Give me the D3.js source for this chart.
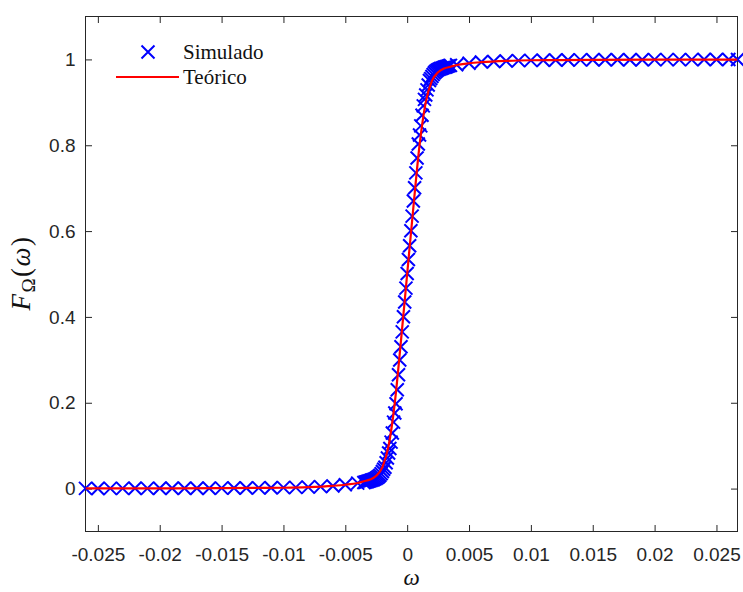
<!DOCTYPE html>
<html>
<head>
<meta charset="utf-8">
<script src="https://cdn.jsdelivr.net/npm/d3@7"></script>
<style>
  html, body { margin: 0; padding: 0; background: #fff; }
  svg { display: block; }
</style>
</head>
<body>
<svg id="chart" width="743" height="592"></svg>
<script>
// Simulated CDF samples (omega, F)
const simOmega = [
  -0.026, -0.025, -0.024, -0.023, -0.022, -0.021, -0.020, -0.019, -0.018, -0.017,
  -0.016, -0.015, -0.014, -0.013, -0.012, -0.011, -0.010, -0.009, -0.008, -0.007,
  -0.006, -0.005, -0.004,
  -0.0035, -0.0034, -0.0033, -0.0032, -0.0031, -0.0030, -0.0029, -0.0028, -0.0027, -0.0026,
  -0.0025, -0.0024, -0.0023, -0.0022, -0.0021, -0.0020, -0.0019, -0.0018, -0.0017, -0.0016,
  -0.0015, -0.0014, -0.0013, -0.0012, -0.0011, -0.0010, -0.0009, -0.0008, -0.0007, -0.0006,
  -0.0005, -0.0004, -0.0003, -0.0002, -0.0001,
  0,
  0.0001, 0.0002, 0.0003, 0.0004, 0.0005,
  0.0006, 0.0007, 0.0008, 0.0009, 0.0010, 0.0011, 0.0012, 0.0013, 0.0014, 0.0015,
  0.0016, 0.0017, 0.0018, 0.0019, 0.0020, 0.0021, 0.0022, 0.0023, 0.0024, 0.0025,
  0.0026, 0.0027, 0.0028, 0.0029, 0.0030, 0.0031, 0.0032, 0.0033, 0.0034, 0.0035,
  0.004, 0.005, 0.006, 0.007, 0.008, 0.009, 0.010, 0.011, 0.012, 0.013,
  0.014, 0.015, 0.016, 0.017, 0.018, 0.019, 0.020, 0.021, 0.022, 0.023,
  0.024, 0.025, 0.026, 0.0267
];
const simF = [
  0.0004, 0.0003, 0.0005, 0.0004, 0.0006, 0.0005, 0.0007, 0.0006, 0.0008, 0.0008,
  0.0009, 0.0011, 0.0012, 0.0014, 0.0016, 0.0019, 0.0022, 0.0028, 0.0034, 0.0045,
  0.0060, 0.0088, 0.0128,
  0.0140, 0.0146, 0.0156, 0.0164, 0.0176, 0.0184, 0.0196, 0.0203, 0.0212, 0.0226,
  0.0241, 0.0262, 0.0281, 0.0312, 0.0349, 0.0398, 0.0452, 0.0497, 0.0603, 0.0712,
  0.0828, 0.0934, 0.1083, 0.1296, 0.1548, 0.1762, 0.1975, 0.2302, 0.2651, 0.2998,
  0.3304, 0.3652, 0.4003, 0.4348, 0.4671,
  0.5012,
  0.5336, 0.5658, 0.6007, 0.6349, 0.6702,
  0.7011, 0.7356, 0.7703, 0.8028, 0.8239, 0.8452, 0.8698, 0.8917, 0.9068, 0.9172,
  0.9291, 0.9402, 0.9508, 0.9553, 0.9601, 0.9649, 0.9688, 0.9719, 0.9741, 0.9762,
  0.9774, 0.9789, 0.9796, 0.9804, 0.9816, 0.9824, 0.9836, 0.9843, 0.9855, 0.9862,
  0.9874, 0.9911, 0.9938, 0.9952, 0.9964, 0.9971, 0.9978, 0.9981, 0.9985, 0.9987,
  0.9990, 0.9991, 0.9992, 0.9993, 0.9994, 0.9994, 0.9995, 0.9995, 0.9996, 0.9996,
  0.9997, 0.9997, 0.9997, 0.9998
];

// Theoretical CDF
const theoOmega = [
  -0.026, -0.02, -0.015, -0.012, -0.01, -0.008, -0.006, -0.005, -0.004, -0.0035,
  -0.003, -0.0025, -0.002, -0.0015, -0.001, -0.0005, 0, 0.0005, 0.001, 0.0015,
  0.002, 0.0025, 0.003, 0.0035, 0.004, 0.005, 0.006, 0.008, 0.01, 0.012,
  0.015, 0.02, 0.0267
];
const theoF = [
  0.0003, 0.0006, 0.001, 0.0015, 0.002, 0.0035, 0.0065, 0.009, 0.013, 0.017,
  0.021, 0.03, 0.05, 0.1, 0.2, 0.345, 0.5, 0.655, 0.8, 0.9,
  0.95, 0.97, 0.979, 0.983, 0.987, 0.991, 0.9935, 0.9965, 0.998, 0.9985,
  0.999, 0.9994, 0.9997
];

const xTicks = [-0.025, -0.02, -0.015, -0.01, -0.005, 0, 0.005, 0.01, 0.015, 0.02, 0.025];
const xTickLabels = ["-0.025", "-0.02", "-0.015", "-0.01", "-0.005", "0", "0.005", "0.01", "0.015", "0.02", "0.025"];
const yTicks = [0, 0.2, 0.4, 0.6, 0.8, 1];
const yTickLabels = ["0", "0.2", "0.4", "0.6", "0.8", "1"];
const yLimits = [-0.1, 1.1];
const seriesNames = ["Simulado", "Teórico"];

const svg = d3.select("#chart");
const box = { left: 85.5, right: 737.5, top: 16.5, bottom: 531.5 };
const axisColor = "#262626";

const x = d3.scaleLinear().domain(d3.extent(simOmega)).range([box.left, box.right]);
const y = d3.scaleLinear().domain(yLimits).range([box.bottom, box.top]);

const sim = simOmega.map((w, i) => ({ w, f: simF[i] }));
const theo = theoOmega.map((w, i) => ({ w, f: theoF[i] }));

svg.append("defs").append("clipPath").attr("id", "plotclip")
  .append("rect")
  .attr("x", box.left).attr("y", box.top)
  .attr("width", box.right - box.left).attr("height", box.bottom - box.top);

// Axes with inward ticks on all four sides
const tickLen = 6.5;
const axisFont = "'Liberation Sans', Arial, Helvetica, sans-serif";

const gx = svg.append("g").attr("transform", `translate(0,${box.bottom})`)
  .call(d3.axisBottom(x).tickValues(xTicks).tickSize(-tickLen).tickPadding(16)
    .tickFormat((d, i) => xTickLabels[i]));
const gxTop = svg.append("g").attr("transform", `translate(0,${box.top})`)
  .call(d3.axisTop(x).tickValues(xTicks).tickSize(-tickLen).tickFormat(""));
const gy = svg.append("g").attr("transform", `translate(${box.left},0)`)
  .call(d3.axisLeft(y).tickValues(yTicks).tickSize(-tickLen).tickPadding(10)
    .tickFormat((d, i) => yTickLabels[i]));
const gyRight = svg.append("g").attr("transform", `translate(${box.right},0)`)
  .call(d3.axisRight(y).tickValues(yTicks).tickSize(-tickLen).tickFormat(""));

[gx, gxTop, gy, gyRight].forEach(g => {
  g.select(".domain").remove();
  g.selectAll(".tick line").attr("stroke", axisColor).attr("stroke-width", 1);
  g.selectAll(".tick text").attr("fill", axisColor)
    .style("font-family", axisFont).style("font-size", "19px");
});
gx.selectAll(".tick text").attr("dy", "0.71em");

svg.append("rect")
  .attr("x", box.left).attr("y", box.top)
  .attr("width", box.right - box.left).attr("height", box.bottom - box.top)
  .attr("fill", "none").attr("stroke", axisColor).attr("stroke-width", 1);

// Simulated markers (x symbols)
const half = 6.5;
const crossPath = (cx, cy) =>
  `M${cx - half},${cy - half}L${cx + half},${cy + half}M${cx - half},${cy + half}L${cx + half},${cy - half}`;

svg.append("g").selectAll("path").data(sim).join("path")
  .attr("d", d => crossPath(x(d.w), y(d.f)))
  .attr("stroke", "#0000ff").attr("stroke-width", 2).attr("fill", "none");

// Theoretical curve
const line = d3.line().x(d => x(d.w)).y(d => y(d.f)).curve(d3.curveMonotoneX);
svg.append("path").datum(theo)
  .attr("clip-path", "url(#plotclip)")
  .attr("d", line)
  .attr("fill", "none").attr("stroke", "#ff0000").attr("stroke-width", 2.2);

// Legend
const serif = "'Liberation Serif', 'Times New Roman', serif";
const lg = svg.append("g");
lg.append("path").attr("d", crossPath(148, 52))
  .attr("stroke", "#0000ff").attr("stroke-width", 2).attr("fill", "none");
lg.append("line").attr("x1", 116).attr("x2", 179).attr("y1", 77).attr("y2", 77)
  .attr("stroke", "#ff0000").attr("stroke-width", 2.2);
lg.selectAll("text").data(seriesNames).join("text")
  .attr("x", 183).attr("y", (d, i) => 58.5 + i * 25)
  .style("font-family", serif).style("font-size", "21px").attr("fill", "#111")
  .text(d => d);

// Axis labels
svg.append("text")
  .attr("x", (box.left + box.right) / 2).attr("y", 585)
  .attr("text-anchor", "middle")
  .style("font-family", serif).style("font-size", "23px").style("font-style", "italic")
  .attr("fill", "#111")
  .text("ω");

const yl = svg.append("text")
  .attr("transform", "translate(30,273) rotate(-90)")
  .attr("text-anchor", "middle")
  .style("font-family", serif).style("font-size", "27px")
  .style("letter-spacing", "1.5px").attr("fill", "#111");
yl.append("tspan").style("font-style", "italic").text("F");
yl.append("tspan").attr("dy", 5).style("font-size", "19px").text("Ω");
yl.append("tspan").attr("dy", -5).text("(");
yl.append("tspan").style("font-style", "italic").text("ω");
yl.append("tspan").text(")");
</script>
</body>
</html>
